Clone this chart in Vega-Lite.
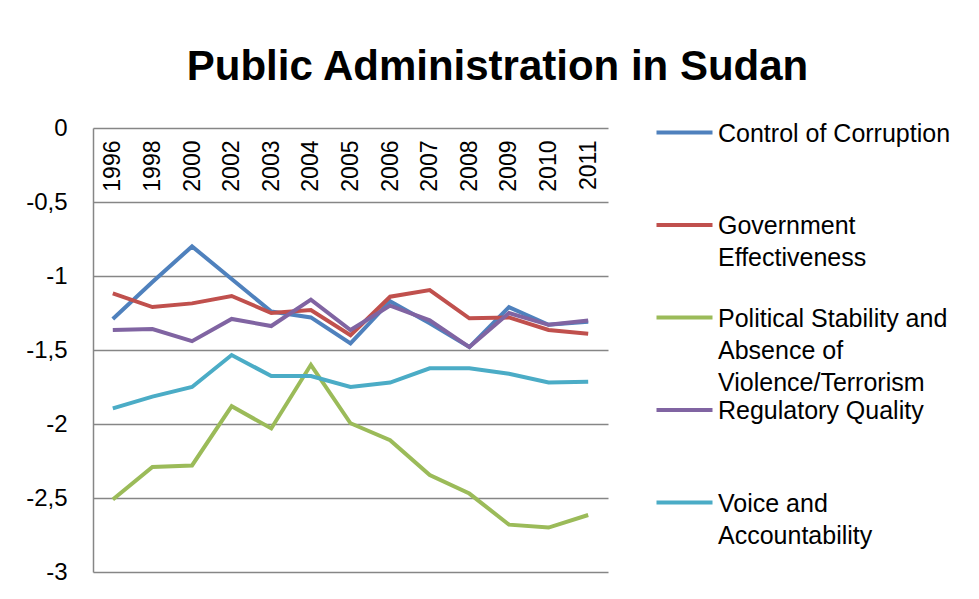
{
  "$schema": "https://vega.github.io/schema/vega-lite/v6.json",
  "width": 515,
  "height": 444,
  "autosize": {"type": "none"},
  "padding": {"left": 93, "top": 128, "right": 371, "bottom": 27},
  "background": "white",
  "title": {
    "text": "Public Administration in Sudan",
    "font": "Liberation Sans",
    "fontSize": 42,
    "fontWeight": "bold",
    "color": "black",
    "anchor": "middle",
    "frame": "group",
    "dx": 147,
    "offset": -6,
    "baseline": "alphabetic"
  },
  "data": {
    "values": [
      {"year": "1996", "indicator": "Control of Corruption", "value": -1.29},
      {"year": "1998", "indicator": "Control of Corruption", "value": -1.04},
      {"year": "2000", "indicator": "Control of Corruption", "value": -0.8},
      {"year": "2002", "indicator": "Control of Corruption", "value": -1.02},
      {"year": "2003", "indicator": "Control of Corruption", "value": -1.24},
      {"year": "2004", "indicator": "Control of Corruption", "value": -1.28},
      {"year": "2005", "indicator": "Control of Corruption", "value": -1.455},
      {"year": "2006", "indicator": "Control of Corruption", "value": -1.17},
      {"year": "2007", "indicator": "Control of Corruption", "value": -1.32},
      {"year": "2008", "indicator": "Control of Corruption", "value": -1.48},
      {"year": "2009", "indicator": "Control of Corruption", "value": -1.21},
      {"year": "2010", "indicator": "Control of Corruption", "value": -1.33},
      {"year": "2011", "indicator": "Control of Corruption", "value": -1.31},
      {"year": "1996", "indicator": "Government Effectiveness", "value": -1.117},
      {"year": "1998", "indicator": "Government Effectiveness", "value": -1.21},
      {"year": "2000", "indicator": "Government Effectiveness", "value": -1.185},
      {"year": "2002", "indicator": "Government Effectiveness", "value": -1.135},
      {"year": "2003", "indicator": "Government Effectiveness", "value": -1.25},
      {"year": "2004", "indicator": "Government Effectiveness", "value": -1.23},
      {"year": "2005", "indicator": "Government Effectiveness", "value": -1.4},
      {"year": "2006", "indicator": "Government Effectiveness", "value": -1.14},
      {"year": "2007", "indicator": "Government Effectiveness", "value": -1.095},
      {"year": "2008", "indicator": "Government Effectiveness", "value": -1.286},
      {"year": "2009", "indicator": "Government Effectiveness", "value": -1.28},
      {"year": "2010", "indicator": "Government Effectiveness", "value": -1.365},
      {"year": "2011", "indicator": "Government Effectiveness", "value": -1.39},
      {"year": "1996", "indicator": "Political Stability and Absence of Violence/Terrorism", "value": -2.51},
      {"year": "1998", "indicator": "Political Stability and Absence of Violence/Terrorism", "value": -2.29},
      {"year": "2000", "indicator": "Political Stability and Absence of Violence/Terrorism", "value": -2.28},
      {"year": "2002", "indicator": "Political Stability and Absence of Violence/Terrorism", "value": -1.88},
      {"year": "2003", "indicator": "Political Stability and Absence of Violence/Terrorism", "value": -2.03},
      {"year": "2004", "indicator": "Political Stability and Absence of Violence/Terrorism", "value": -1.6},
      {"year": "2005", "indicator": "Political Stability and Absence of Violence/Terrorism", "value": -1.995},
      {"year": "2006", "indicator": "Political Stability and Absence of Violence/Terrorism", "value": -2.11},
      {"year": "2007", "indicator": "Political Stability and Absence of Violence/Terrorism", "value": -2.345},
      {"year": "2008", "indicator": "Political Stability and Absence of Violence/Terrorism", "value": -2.47},
      {"year": "2009", "indicator": "Political Stability and Absence of Violence/Terrorism", "value": -2.68},
      {"year": "2010", "indicator": "Political Stability and Absence of Violence/Terrorism", "value": -2.7},
      {"year": "2011", "indicator": "Political Stability and Absence of Violence/Terrorism", "value": -2.615},
      {"year": "1996", "indicator": "Regulatory Quality", "value": -1.365},
      {"year": "1998", "indicator": "Regulatory Quality", "value": -1.358},
      {"year": "2000", "indicator": "Regulatory Quality", "value": -1.44},
      {"year": "2002", "indicator": "Regulatory Quality", "value": -1.29},
      {"year": "2003", "indicator": "Regulatory Quality", "value": -1.338},
      {"year": "2004", "indicator": "Regulatory Quality", "value": -1.16},
      {"year": "2005", "indicator": "Regulatory Quality", "value": -1.365},
      {"year": "2006", "indicator": "Regulatory Quality", "value": -1.2},
      {"year": "2007", "indicator": "Regulatory Quality", "value": -1.3},
      {"year": "2008", "indicator": "Regulatory Quality", "value": -1.48},
      {"year": "2009", "indicator": "Regulatory Quality", "value": -1.25},
      {"year": "2010", "indicator": "Regulatory Quality", "value": -1.33},
      {"year": "2011", "indicator": "Regulatory Quality", "value": -1.3},
      {"year": "1996", "indicator": "Voice and Accountability", "value": -1.894},
      {"year": "1998", "indicator": "Voice and Accountability", "value": -1.815},
      {"year": "2000", "indicator": "Voice and Accountability", "value": -1.75},
      {"year": "2002", "indicator": "Voice and Accountability", "value": -1.534},
      {"year": "2003", "indicator": "Voice and Accountability", "value": -1.676},
      {"year": "2004", "indicator": "Voice and Accountability", "value": -1.676},
      {"year": "2005", "indicator": "Voice and Accountability", "value": -1.75},
      {"year": "2006", "indicator": "Voice and Accountability", "value": -1.72},
      {"year": "2007", "indicator": "Voice and Accountability", "value": -1.624},
      {"year": "2008", "indicator": "Voice and Accountability", "value": -1.624},
      {"year": "2009", "indicator": "Voice and Accountability", "value": -1.66},
      {"year": "2010", "indicator": "Voice and Accountability", "value": -1.72},
      {"year": "2011", "indicator": "Voice and Accountability", "value": -1.714}
    ]
  },
  "mark": {"type": "line", "strokeWidth": 4},
  "encoding": {
    "x": {
      "field": "year",
      "type": "ordinal",
      "scale": {"type": "point", "padding": 0.5},
      "axis": {
        "orient": "top",
        "title": null,
        "labelAngle": 270,
        "labelAlign": "right",
        "labelBaseline": "middle",
        "labelPadding": -12,
        "ticks": false,
        "domain": false,
        "grid": false,
        "labelFont": "Liberation Sans",
        "labelFontSize": 23,
        "labelColor": "black"
      }
    },
    "y": {
      "field": "value",
      "type": "quantitative",
      "scale": {"domain": [-3, 0], "nice": false, "zero": false},
      "axis": {
        "title": null,
        "values": [0, -0.5, -1, -1.5, -2, -2.5, -3],
        "labelExpr": "replace(toString(datum.value), '.', ',')",
        "labelPadding": 26,
        "ticks": false,
        "domain": true,
        "domainColor": "#868686",
        "domainWidth": 1.5,
        "grid": true,
        "gridColor": "#868686",
        "gridWidth": 1.5,
        "labelFont": "Liberation Sans",
        "labelFontSize": 24,
        "labelColor": "black"
      }
    },
    "color": {
      "field": "indicator",
      "type": "nominal",
      "scale": {
        "domain": ["Control of Corruption", "Government Effectiveness", "Political Stability and Absence of Violence/Terrorism", "Regulatory Quality", "Voice and Accountability"],
        "range": ["#4F81BD", "#C0504D", "#9BBB59", "#8064A2", "#4BACC6"]
      },
      "legend": {
        "title": null,
        "orient": "none",
        "legendX": 579,
        "legendY": 1,
        "padding": 0,
        "symbolType": "M-5.6,-1.8H5.6",
        "symbolSize": 100,
        "symbolStrokeWidth": 4,
        "labelFont": "Liberation Sans",
        "labelFontSize": 25,
        "labelColor": "black",
        "labelOffset": 21,
        "labelBaseline": "alphabetic",
        "labelLimit": 400,
        "rowPadding": 2.5,
        "labelExpr": "datum.label == 'Government Effectiveness' ? ['Government', 'Effectiveness', ''] : datum.label == 'Voice and Accountability' ? ['Voice and', 'Accountability', ''] : datum.label == 'Political Stability and Absence of Violence/Terrorism' ? ['Political Stability and', 'Absence of', 'Violence/Terrorism'] : [datum.label, '', '']"
      }
    }
  },
  "config": {
    "view": {"stroke": null},
    "style": {"guide-label": {"lineHeight": 32}}
  }
}
